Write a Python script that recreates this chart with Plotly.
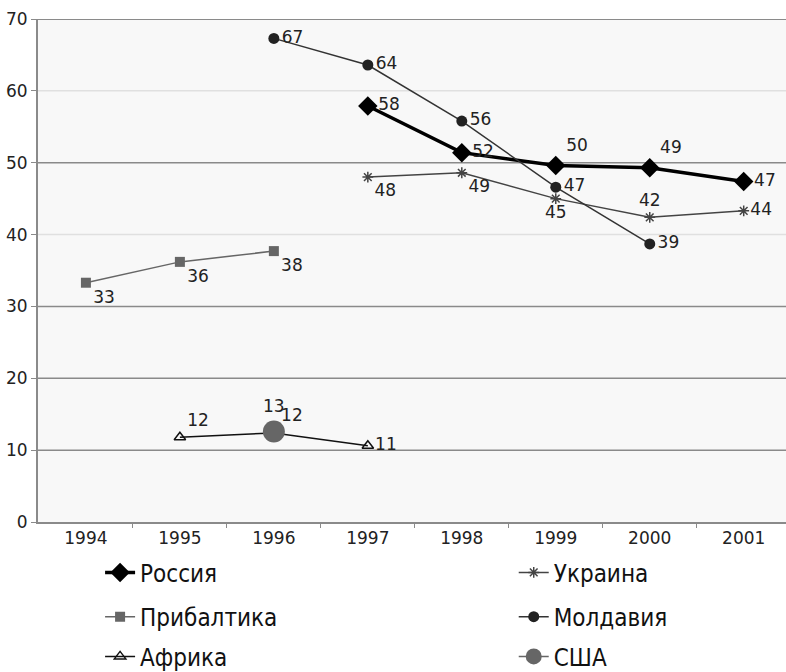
import plotly.graph_objects as go

# Data
years = [1994, 1995, 1996, 1997, 1998, 1999, 2000, 2001]

russia_x = [1997, 1998, 1999, 2000, 2001]
russia_y = [57.9, 51.4, 49.6, 49.3, 47.4]
russia_lbl = ["58", "52", "50", "49", "47"]

ukraine_x = [1997, 1998, 1999, 2000, 2001]
ukraine_y = [48.0, 48.6, 45.0, 42.4, 43.3]
ukraine_lbl = ["48", "49", "45", "42", "44"]

baltic_x = [1994, 1995, 1996]
baltic_y = [33.3, 36.2, 37.7]
baltic_lbl = ["33", "36", "38"]

moldova_x = [1996, 1997, 1998, 1999, 2000]
moldova_y = [67.3, 63.6, 55.8, 46.6, 38.7]
moldova_lbl = ["67", "64", "56", "47", "39"]

africa_x = [1995, 1996, 1997]
africa_y = [11.8, 12.4, 10.6]
africa_lbl = ["12", "12", "11"]

usa_x = [1996]
usa_y = [12.6]
usa_lbl = ["13"]

y_ticks = [0, 10, 20, 30, 40, 50, 60, 70]

FONT = "DejaVu Sans, Liberation Sans, Arial, sans-serif"
LEG_FONT = "DejaVu Sans Condensed, Liberation Sans Narrow, Liberation Sans, sans-serif"
lbl_font = dict(family=FONT, size=17, color="#222")

fig = go.Figure()

# Россия
fig.add_trace(go.Scatter(
    x=russia_x, y=russia_y, name="Россия", mode="lines+markers+text",
    text=russia_lbl,
    textposition=["middle right", "middle right", "top right", "top right", "middle right"],
    line=dict(color="#000", width=3.5),
    marker=dict(symbol="diamond", size=15, color="#000"),
    textfont=lbl_font, legend="legend", cliponaxis=False,
))
# Украина
fig.add_trace(go.Scatter(
    x=ukraine_x, y=ukraine_y, name="Украина", mode="lines+markers+text",
    text=ukraine_lbl,
    textposition=["bottom right", "bottom right", "bottom center", "top center", "middle right"],
    line=dict(color="#444", width=1.5),
    marker=dict(symbol="asterisk", size=9, color="#444", line=dict(color="#444", width=1.5)),
    textfont=lbl_font, legend="legend2", cliponaxis=False,
))
# Прибалтика
fig.add_trace(go.Scatter(
    x=baltic_x, y=baltic_y, name="Прибалтика", mode="lines+markers+text",
    text=baltic_lbl, textposition="bottom right",
    line=dict(color="#666", width=1.5),
    marker=dict(symbol="square", size=10, color="#666"),
    textfont=lbl_font, legend="legend3", cliponaxis=False,
))
# Молдавия
fig.add_trace(go.Scatter(
    x=moldova_x, y=moldova_y, name="Молдавия", mode="lines+markers+text",
    text=moldova_lbl, textposition="middle right",
    line=dict(color="#333", width=1.5),
    marker=dict(symbol="circle", size=11, color="#222"),
    textfont=lbl_font, legend="legend4", cliponaxis=False,
))
# Африка
fig.add_trace(go.Scatter(
    x=africa_x, y=africa_y, name="Африка", mode="lines+markers+text",
    text=africa_lbl, textposition=["top right", "top right", "middle right"],
    line=dict(color="#111", width=1.5),
    marker=dict(symbol="triangle-up-open", size=10, color="#111", line=dict(width=1.5)),
    textfont=lbl_font, legend="legend5", cliponaxis=False,
))
# США
fig.add_trace(go.Scatter(
    x=usa_x, y=usa_y, name="США", mode="lines+markers+text",
    text=usa_lbl, textposition="top center",
    line=dict(color="#666", width=1.5),
    marker=dict(symbol="circle", size=22, color="#666"),
    textfont=lbl_font, legend="legend6", cliponaxis=False,
))

# horizontal gridlines, 40 and 60 lighter as in the original
light = {40, 60}
for v in y_ticks[1:]:
    fig.add_shape(type="line", xref="paper", x0=0, x1=1, yref="y", y0=v, y1=v,
                  line=dict(color="#e0e0e0" if v in light else "#8a8a8a",
                            width=2 if v == 70 else 1.5),
                  layer="below")

# two-column legend: one small legend box per entry
leg_common = dict(orientation="v", xanchor="left", yanchor="middle",
                  font=dict(family=LEG_FONT, size=24, color="#111"),
                  bgcolor="rgba(0,0,0,0)", borderwidth=0, itemwidth=30)
col_x = [0.083, 0.636]
row_y = [-0.101, -0.189, -0.268]

fig.update_layout(
    width=786, height=672,
    margin=dict(l=38, r=0, t=19, b=150, autoexpand=False),
    paper_bgcolor="white", plot_bgcolor="#f8f8f8",
    showlegend=True,
    legend=dict(leg_common, x=col_x[0], y=row_y[0]),
    legend2=dict(leg_common, x=col_x[1], y=row_y[0]),
    legend3=dict(leg_common, x=col_x[0], y=row_y[1]),
    legend4=dict(leg_common, x=col_x[1], y=row_y[1]),
    legend5=dict(leg_common, x=col_x[0], y=row_y[2]),
    legend6=dict(leg_common, x=col_x[1], y=row_y[2]),
    xaxis=dict(
        range=[1993.49, 2001.45], tickvals=years, ticktext=[str(y) for y in years],
        ticks="", showgrid=False, zeroline=False,
        showline=True, linecolor="#8a8a8a", linewidth=2,
        tickfont=dict(family=FONT, size=17, color="#222"),
        minor=dict(tickvals=[y + 0.5 for y in years], ticks="outside",
                   ticklen=4, tickcolor="#8a8a8a", tickwidth=1),
    ),
    yaxis=dict(
        range=[0, 70], tickvals=y_ticks, showgrid=False, zeroline=False,
        showline=True, linecolor="#8a8a8a", linewidth=2,
        ticks="outside", ticklen=5, tickcolor="#8a8a8a",
        tickfont=dict(family=FONT, size=17, color="#222"),
    ),
)

fig.write_html("out.html", config={"displayModeBar": False},
               post_script="document.body.style.margin='0';")
